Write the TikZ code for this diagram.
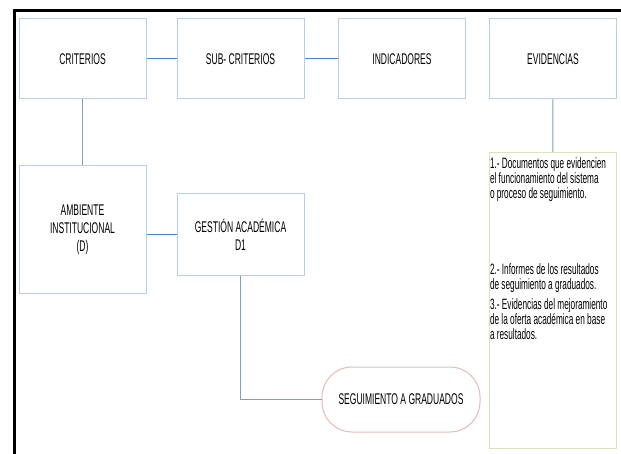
\documentclass[tikz,border=0pt]{standalone}
\usepackage{fontspec}
\setmainfont{Liberation Sans}[FakeStretch=0.55]
\usetikzlibrary{positioning}

\definecolor{boxblue}{RGB}{185,205,229}
\definecolor{lineblue}{RGB}{79,129,189}
\definecolor{vlineblue}{RGB}{124,158,206}
\definecolor{segpink}{RGB}{230,185,184}
\definecolor{evgreen}{RGB}{215,228,189}

\tikzset{
  box/.style={draw=boxblue, line width=1pt, minimum width=127pt, align=center,
              font=\fontsize{15.5}{18}\selectfont},
  hlink/.style={draw=lineblue, line width=1pt},
  vlink/.style={draw=vlineblue, line width=1pt},
}

\begin{document}
\begin{tikzpicture}[x=1pt, y=-1pt]
  \useasboundingbox (0,0) rectangle (621,454);
  % marco
  \draw[line width=3pt] (14,454) -- (14,11) -- (621,11);

  \node[box, minimum height=80pt]            (crit) at (82.5,59)   {CRITERIOS};
  \node[box, minimum height=80pt]            (sub)  at (240.5,59)  {SUB- CRITERIOS};
  \node[box, minimum height=80pt]            (ind)  at (402,59)    {INDICADORES};
  \node[box, minimum height=80pt]            (evid) at (553,59)    {EVIDENCIAS};
  \node[box, minimum height=128pt]           (amb)  at (82.5,230)  {AMBIENTE\\ INSTITUCIONAL\\ (D)};
  \node[box, minimum height=82pt]            (gest) at (240.5,235) {GESTIÓN ACADÉMICA\\ D1};
  \node[box, draw=segpink, minimum width=158pt, minimum height=65pt,
        rounded corners=30pt]                (seg)  at (401,399.5) {SEGUIMIENTO A GRADUADOS};
  \node[draw=evgreen, line width=1pt, inner sep=1pt, anchor=north,
        font=\fontsize{15}{15}\selectfont]   (evtx) at (552.5,152)
    {\parbox[t][294pt][t]{125pt}{\raggedright\vspace*{4pt}
      1.- Documentos que evidencien\\
      el funcionamiento del sistema\\
      o proceso de seguimiento.\\[61pt]
      2.- Informes de los resultados\\
      de seguimiento a graduados.\\[5pt]
      3.- Evidencias del mejoramiento\\
      de la oferta académica en base\\
      a resultados.}};

  % criterios -- sub-criterios -- indicadores
  \path[hlink] (crit) -- (sub);
  \path[hlink] (sub) -- (ind);
  % criterios -- ambiente institucional
  \path[vlink] (crit) -- (amb);
  % ambiente -- gestion
  \path[hlink] (gest.west) -- (gest.west -| amb.east);
  % gestion -- seguimiento
  \path[vlink] (gest.south) |- (seg.west);
  % evidencias -- lista
  \path[vlink] (evid) -- (evtx);
\end{tikzpicture}
\end{document}
